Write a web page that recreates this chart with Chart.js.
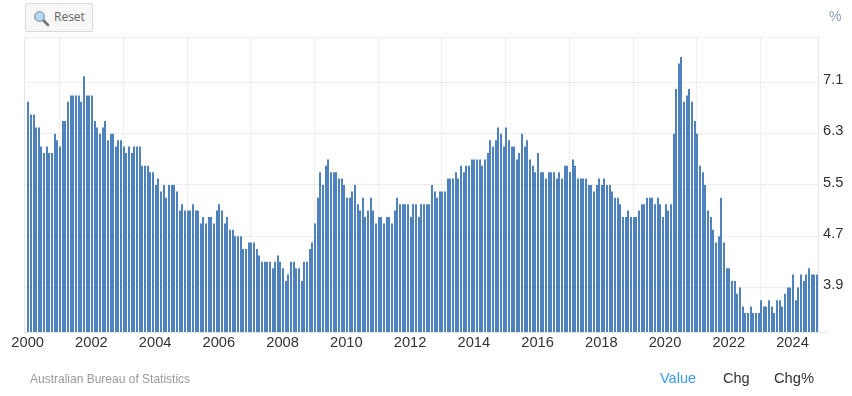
<!DOCTYPE html>
<html>
<head>
<meta charset="utf-8">
<title>Australia unemployment rate</title>
<script src="https://cdn.jsdelivr.net/npm/chart.js@4"></script>
<style>
  html, body { margin: 0; padding: 0; background: #fff; }
  #wrap { position: relative; width: 852px; height: 396px; overflow: hidden; font-family: "Liberation Sans", Arial, sans-serif; }
  #myChart { position: absolute; left: 0; top: 0; }
  .txt { position: absolute; white-space: nowrap; line-height: 16px; }
  #reset { position: absolute; left: 25px; top: 3px; width: 66px; height: 27px; box-sizing: content-box;
    background: #f7f7f7; border: 1px solid #d8d8d8; border-radius: 2px; }
  #reset svg { position: absolute; left: 7px; top: 6px; }
  #reset span { position: absolute; left: 28px; top: 5px; font: 12px/16px "Open Sans", sans-serif; color: #666; }
</style>
</head>
<body>
<div id="wrap">
  <canvas id="myChart" width="852" height="396"></canvas>
  <div id="reset">
    <svg width="17" height="17" viewBox="0 0 17 17">
      <line x1="9.5" y1="9.5" x2="15" y2="15" stroke="#777" stroke-width="2.6" stroke-linecap="round"/>
      <circle cx="6.5" cy="6.5" r="4.8" fill="#b5dcf7" stroke="#8c9aa6" stroke-width="1.3"/>
    </svg>
    <span>Reset</span>
  </div>
  <div class="txt" style="left:829px;top:8px;font-size:14px;color:#8d9db3;">%</div>
  <div class="txt" style="left:30px;top:371px;font-size:12px;color:#999;">Australian Bureau of Statistics</div>
  <div class="txt" style="left:660px;top:370px;font-size:14.5px;color:#3d9bf5;">Value</div>
  <div class="txt" style="left:723px;top:370px;font-size:14.5px;color:#333;">Chg</div>
  <div class="txt" style="left:774px;top:370px;font-size:14.7px;color:#333;">Chg%</div>
</div>
<script>
const yearLabels = [2000, 2002, 2004, 2006, 2008, 2010, 2012, 2014, 2016, 2018, 2020, 2022, 2024];
const rateLabels = [3.9, 4.7, 5.5, 6.3, 7.1];

// monthly values, one row per year, Jan 2000 - Oct 2024
const rate = [
  6.8, 6.6, 6.6, 6.4, 6.4, 6.1, 6.0, 6.1, 6.0, 6.0, 6.3, 6.2,
  6.1, 6.5, 6.5, 6.8, 6.9, 6.9, 6.9, 6.9, 6.8, 7.2, 6.9, 6.9,
  6.9, 6.5, 6.4, 6.3, 6.4, 6.5, 6.2, 6.3, 6.3, 6.1, 6.2, 6.2,
  6.1, 6.0, 6.1, 6.0, 6.1, 6.1, 6.1, 5.8, 5.8, 5.8, 5.7, 5.7,
  5.5, 5.6, 5.4, 5.5, 5.3, 5.5, 5.5, 5.5, 5.4, 5.1, 5.2, 5.1,
  5.1, 5.1, 5.2, 5.1, 5.1, 4.9, 5.0, 4.9, 5.0, 5.0, 4.9, 5.1,
  5.2, 5.1, 4.9, 5.0, 4.8, 4.8, 4.7, 4.7, 4.7, 4.5, 4.5, 4.6,
  4.6, 4.6, 4.5, 4.4, 4.3, 4.3, 4.3, 4.3, 4.2, 4.3, 4.4, 4.3,
  4.2, 4.0, 4.1, 4.3, 4.3, 4.2, 4.2, 4.0, 4.3, 4.3, 4.5, 4.6,
  4.9, 5.3, 5.7, 5.5, 5.8, 5.9, 5.7, 5.7, 5.7, 5.6, 5.6, 5.5,
  5.3, 5.3, 5.4, 5.5, 5.2, 5.1, 5.3, 5.0, 5.1, 5.3, 5.1, 4.9,
  5.0, 5.0, 4.9, 5.0, 5.0, 4.9, 5.1, 5.3, 5.2, 5.2, 5.2, 5.2,
  5.0, 5.2, 5.2, 5.0, 5.2, 5.2, 5.2, 5.2, 5.5, 5.4, 5.3, 5.4,
  5.4, 5.4, 5.6, 5.6, 5.6, 5.7, 5.6, 5.8, 5.7, 5.8, 5.8, 5.9,
  5.9, 5.9, 5.9, 5.8, 5.9, 6.0, 6.2, 6.1, 6.2, 6.4, 6.3, 6.1,
  6.4, 6.2, 6.1, 6.1, 5.9, 6.0, 6.3, 6.1, 6.2, 5.9, 5.8, 5.7,
  6.0, 5.7, 5.7, 5.6, 5.7, 5.7, 5.7, 5.6, 5.7, 5.6, 5.8, 5.8,
  5.7, 5.9, 5.8, 5.6, 5.6, 5.6, 5.6, 5.5, 5.5, 5.4, 5.5, 5.6,
  5.5, 5.6, 5.5, 5.5, 5.4, 5.3, 5.3, 5.2, 5.0, 5.0, 5.1, 5.0,
  5.0, 5.0, 5.1, 5.2, 5.2, 5.3, 5.3, 5.3, 5.2, 5.3, 5.2, 5.0,
  5.2, 5.1, 5.2, 6.3, 7.0, 7.4, 7.5, 6.8, 6.9, 7.0, 6.8, 6.5,
  6.3, 5.8, 5.7, 5.5, 5.1, 5.0, 4.8, 4.6, 4.7, 5.3, 4.6, 4.2,
  4.2, 4.0, 4.0, 3.8, 3.9, 3.6, 3.5, 3.5, 3.6, 3.5, 3.5, 3.5,
  3.7, 3.6, 3.6, 3.7, 3.6, 3.5, 3.7, 3.7, 3.6, 3.8, 3.9, 3.9,
  4.1, 3.7, 3.9, 4.1, 4.0, 4.1, 4.2, 4.1, 4.1, 4.1
];

const gridColor = '#e0e0e0';
const frameColor = '#e6e6e6';

// bars sit a little after the 1st of the month
const points = rate.map((v, i) => ({ x: 2000 + (i + 0.2) / 12, y: v }));

// keep every bar on whole pixels, like the original
const crispBars = {
  id: 'crispBars',
  beforeDatasetsDraw(chart) {
    chart.getDatasetMeta(0).data.forEach(bar => {
      bar.x = Math.round(bar.x - 1) + 1;
    });
  }
};

// left, right and bottom lines of the plot
const frame = {
  id: 'frame',
  beforeDatasetsDraw(chart) {
    const { ctx, chartArea: a } = chart;
    ctx.save();
    ctx.strokeStyle = frameColor;
    ctx.lineWidth = 1;
    ctx.beginPath();
    ctx.moveTo(a.left + 0.5, a.top);
    ctx.lineTo(a.left + 0.5, a.bottom + 0.5);
    ctx.lineTo(a.right + 10, a.bottom + 0.5);
    ctx.moveTo(a.right + 0.5, a.top);
    ctx.lineTo(a.right + 0.5, a.bottom);
    ctx.stroke();
    ctx.restore();
  }
};

new Chart(document.getElementById('myChart').getContext('2d'), {
  type: 'bar',
  data: {
    datasets: [{
      data: points,
      backgroundColor: '#4f81bd',
      barThickness: 2,
      borderWidth: 0,
      inflateAmount: 0
    }]
  },
  options: {
    responsive: false,
    animation: false,
    parsing: { xAxisKey: 'x', yAxisKey: 'y' },
    layout: { padding: { left: 24, top: 37, right: 0, bottom: 0 } },
    plugins: { legend: { display: false }, tooltip: { enabled: false } },
    scales: {
      x: {
        type: 'linear',
        offset: false,
        min: 1999.885,
        max: 2024.8,
        afterBuildTicks: scale => { scale.ticks = yearLabels.map(y => ({ value: y })); },
        afterFit: scale => { scale.height = 64; },
        grid: { color: gridColor, drawTicks: false, lineWidth: 1 },
        border: { display: false, dash: [1, 1] },
        ticks: {
          autoSkip: false,
          maxRotation: 0,
          padding: 2,
          color: '#333',
          font: { family: '"Liberation Sans", Arial, sans-serif', size: 14.7 },
          callback: value => String(value)
        }
      },
      y: {
        position: 'right',
        min: 3.203,
        max: 7.8125,
        afterBuildTicks: scale => {
          scale.ticks = rateLabels.map(v => ({ value: v })).concat({ value: scale.max });
        },
        afterFit: scale => { scale.width = 34; },
        grid: { color: gridColor, drawTicks: false, lineWidth: 1 },
        border: { display: false, dash: [1, 1] },
        ticks: {
          autoSkip: false,
          padding: 5,
          color: '#333',
          // second empty line lifts the label a few pixels above its grid line
          font: { family: '"Liberation Sans", Arial, sans-serif', size: 14.7, lineHeight: '5px' },
          callback: value => (rateLabels.includes(value) ? [value.toFixed(1), ''] : '')
        }
      }
    }
  },
  plugins: [frame, crispBars]
});
</script>
</body>
</html>
